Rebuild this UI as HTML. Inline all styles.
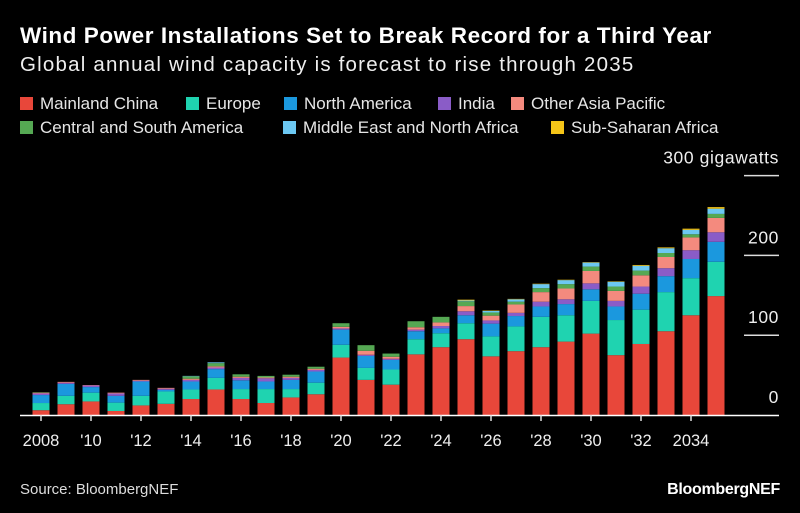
<!DOCTYPE html>
<html><head><meta charset="utf-8">
<style>
body{margin:0;background:#000;width:800px;height:513px;overflow:hidden;font-family:"Liberation Sans",sans-serif;color:#fff}
.t{position:absolute;white-space:nowrap}
.leg{position:absolute;font-size:17px;color:#e6e6e6;white-space:nowrap}
.leg i{display:inline-block;width:13px;height:13px;margin-right:7px;vertical-align:-1px}
</style></head><body>
<div class="t" style="left:20px;top:23px;font-size:22.5px;font-weight:bold;letter-spacing:0.55px">Wind Power Installations Set to Break Record for a Third Year</div>
<div class="t" style="left:20px;top:53px;font-size:20.5px;color:#eee;letter-spacing:1.2px">Global annual wind capacity is forecast to rise through 2035</div>
<div>
<div class="leg" style="left:20px;top:94px"><i style="background:#e8473a"></i>Mainland China</div>
<div class="leg" style="left:186px;top:94px"><i style="background:#1fd3b0"></i>Europe</div>
<div class="leg" style="left:284px;top:94px"><i style="background:#1b98de"></i>North America</div>
<div class="leg" style="left:438px;top:94px"><i style="background:#8a5cc7"></i>India</div>
<div class="leg" style="left:511px;top:94px"><i style="background:#f48a7e"></i>Other Asia Pacific</div>
<div class="leg" style="left:20px;top:118px"><i style="background:#55a853"></i>Central and South America</div>
<div class="leg" style="left:283px;top:118px"><i style="background:#6cc8f2"></i>Middle East and North Africa</div>
<div class="leg" style="left:551px;top:118px"><i style="background:#f5c518"></i>Sub-Saharan Africa</div>
</div>
<svg id="chart" width="800" height="513" style="position:absolute;left:0;top:0"></svg>
<div class="t" style="left:20px;top:481px;font-size:15px;color:#ddd">Source: BloombergNEF</div>
<div class="t" style="right:20px;top:481px;font-size:16px;font-weight:bold;letter-spacing:-0.3px">BloombergNEF</div>
<script>
const years=[2008,2009,2010,2011,2012,2013,2014,2015,2016,2017,2018,2019,2020,2021,2022,2023,2024,2025,2026,2027,2028,2029,2030,2031,2032,2033,2034,2035];
const china=[6,13.5,17,5,12,14,20,32,20,15,22,26,72,44,38,76,85,95,73.5,80,85,92,102,75,89,105,125,149];
const europe=[9,10.5,11,10.5,12,15.5,12,14.5,12.5,17.5,10.5,14.5,16,15,19,19,17.5,20,25,31,38,33,41,44,43,49,46.5,43];
const northAmerica=[10,15,7,8.5,18,2,10,11,11,9.5,11.5,14,19,15,12,10,6,10,16,13,13,14,14.5,17,20,20,24,25];
const india=[2,1.5,2,3,1,1.5,2,2,3,4,2.5,2,1.5,1.5,1.5,2,3,5,4,4,6,6,7.5,7,9,10,11,12];
const otherAsiaPacific=[1,1,0.5,1,1,1,1.5,1.5,1.5,1,1.5,1.5,2,5,2.5,3,4.5,6.5,6,10.5,12,13.5,15.5,12.5,14,14,16,18];
const centralSouthAmerica=[0.5,0,0,0,0,0,3,4,3,2,2.5,2.5,4.5,7,4,7.5,7,6,4,3.5,5,5.5,5.5,5.5,6,5,4,5];
const mena=[0,0,0,0,0,0,0.5,1,0,0,0,0,0,0,0,0,0,1,2,3,5,5,5,6,6,6,5.5,6.5];
const subSaharanAfrica=[0,0,0,0,0,0,0,0,0,0,0,0,0,0,0,0,0,1,0.5,0.5,0.5,0.5,0.5,0.5,1,1,1.5,2];
const yTicks=[0,100,200,300];
const yTickLabels=["0","100","200","300 gigawatts"];
const xTickLabels=["2008","'10","'12","'14","'16","'18","'20","'22","'24","'26","'28","'30","'32","2034"];

const series=[china,europe,northAmerica,india,otherAsiaPacific,centralSouthAmerica,mena,subSaharanAfrica];
const names=['china','europe','north-america','india','other-asia-pacific','central-south-america','mena','sub-saharan-africa'];
const colors=['#e8473a','#1fd3b0','#1b98de','#8a5cc7','#f48a7e','#55a853','#6cc8f2','#f5c518'];
const NS='http://www.w3.org/2000/svg';
const svg=document.getElementById('chart');
const base=415, k=0.798;
const y=v=>base-v*k;
const x=yr=>41+(yr-2008)*25;
const bw=17;
function mk(t,a){const e=document.createElementNS(NS,t);for(const n in a)e.setAttribute(n,a[n]);svg.appendChild(e);return e;}
yTicks.forEach((v,i)=>{
  if(v>0){const l=mk('line',{x1:744,x2:779,y1:y(v),y2:y(v),stroke:'#ddd','stroke-width':1.5});
  
  }
  const t=mk('text',{x:779,y:y(v)-12,'text-anchor':'end',fill:'#eee','font-size':17.5,'letter-spacing':0.6,'font-family':'Liberation Sans, sans-serif'});
  t.textContent=yTickLabels[i];
  
  
});
years.forEach((yr,i)=>{
  let cum=0;
  series.forEach((s,j)=>{
    const v=s[i]; if(!v) return;
    const r=mk('rect',{x:x(yr)-bw/2,y:y(cum+v),width:bw,height:v*k,fill:colors[j]});
    
    
    cum+=v;
  });
});
const bl=mk('line',{x1:20,x2:779,y1:base+0.5,y2:base+0.5,stroke:'#fff','stroke-width':1.5});


xTickLabels.forEach((lab,i)=>{
  const yr=2008+i*2;
  const tk=mk('line',{x1:x(yr),x2:x(yr),y1:base,y2:base+6,stroke:'#ddd','stroke-width':1.5});
  
  
  const t=mk('text',{x:x(yr),y:446,'text-anchor':'middle',fill:'#eee','font-size':16.5,'font-family':'Liberation Sans, sans-serif'});
  t.textContent=lab;
  
  
});
</script>
</body></html>
